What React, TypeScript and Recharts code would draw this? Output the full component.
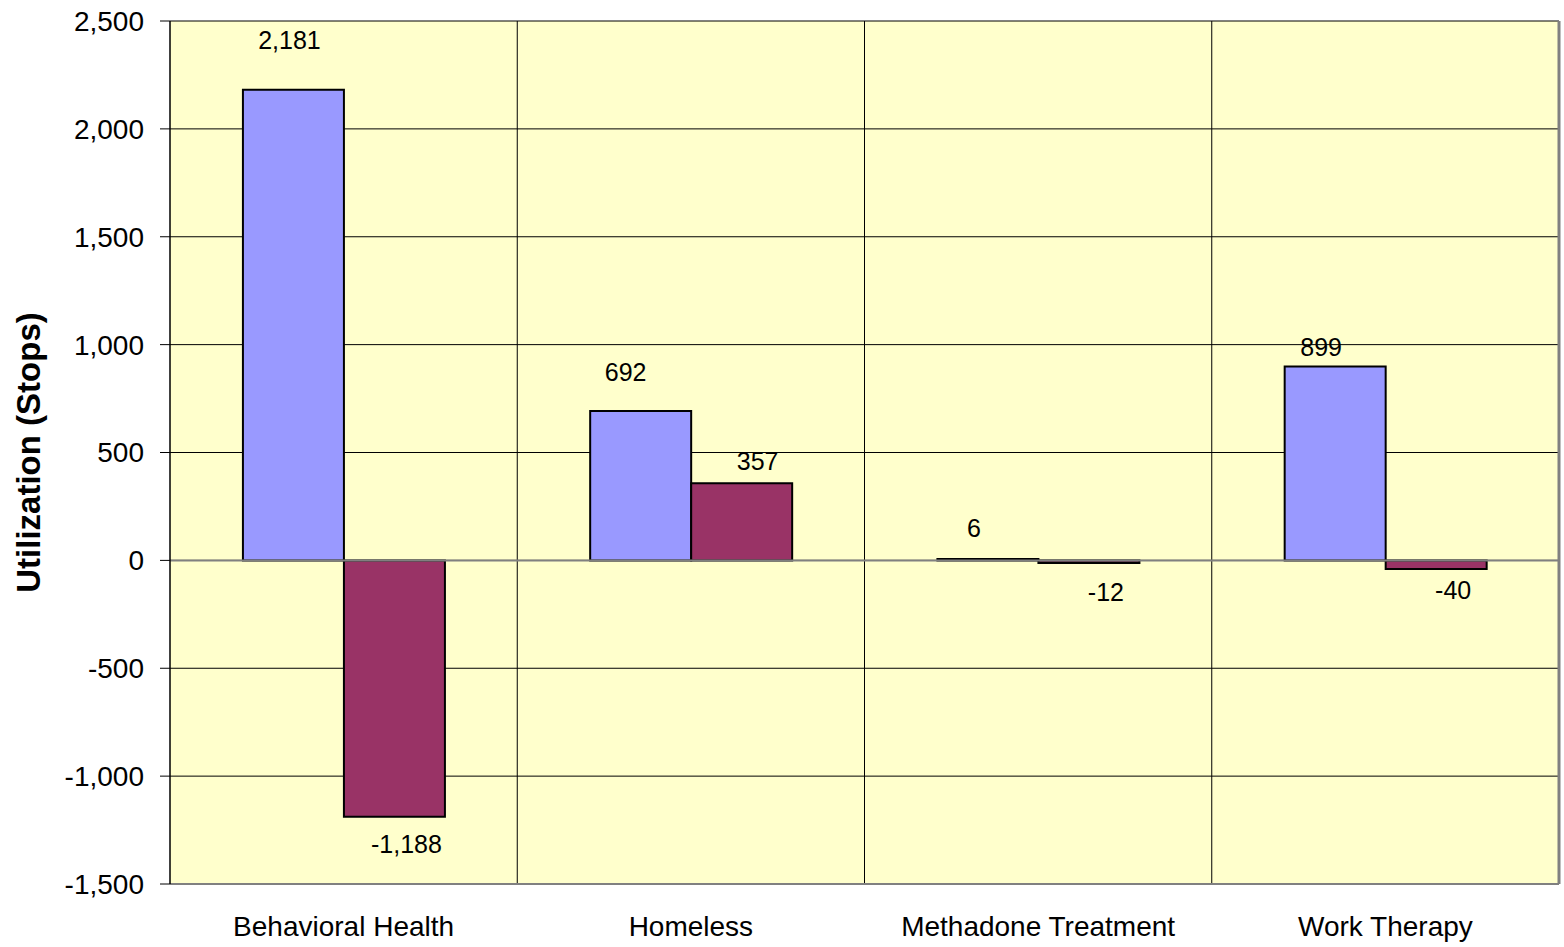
import React from "react";
import {
  BarChart,
  Bar,
  XAxis,
  YAxis,
  CartesianGrid,
  ReferenceLine,
  LabelList,
} from "recharts";

const categories = ["Behavioral Health", "Homeless", "Methadone Treatment", "Work Therapy"];
const seriesA = [2181, 692, 6, 899];
const seriesB = [-1188, 357, -12, -40];
const yTicks = [-1500, -1000, -500, 0, 500, 1000, 1500, 2000, 2500];

// label nudges (style only), matching the reference's hand-placed labels
const labelShiftA = [
  { dx: -4, dy: -50 },
  { dx: -15, dy: -39 },
  { dx: -14, dy: -31 },
  { dx: -14, dy: -19 },
];
const labelShiftB = [
  { dx: 12, dy: 27 },
  { dx: 16, dy: -22 },
  { dx: 17, dy: 29 },
  { dx: 17, dy: 21 },
];

const data = categories.map((name, i) => ({ name, a: seriesA[i], b: seriesB[i] }));

const FONT = "'Liberation Sans', Arial, sans-serif";
const fmt = (v: number) => v.toLocaleString("en-US");

const makeLabel = (shifts: { dx: number; dy: number }[]) => (props: any) => {
  const { x, y, width, height, value, index } = props;
  const s = shifts[index] || { dx: 0, dy: 0 };
  const cx = x + width / 2 + s.dx;
  const top = Math.min(y, y + height);
  const bottom = Math.max(y, y + height);
  const base = value >= 0 ? top : bottom;
  return (
    <text
      x={cx}
      y={base + s.dy}
      textAnchor="middle"
      dominantBaseline="central"
      fontFamily={FONT}
      fontSize={25}
      fill="#000"
    >
      {fmt(value)}
    </text>
  );
};

const YLabel = (props: any) => {
  const { viewBox } = props;
  const cx = viewBox.x + 28;
  const cy = viewBox.y + viewBox.height / 2;
  return (
    <text
      x={cx}
      y={cy}
      transform={`rotate(-90, ${cx}, ${cy})`}
      textAnchor="middle"
      dominantBaseline="central"
      fontFamily={FONT}
      fontSize={33}
      fontWeight="bold"
      fill="#000"
    >
      Utilization (Stops)
    </text>
  );
};

export default function App() {
  return (
    <div style={{ position: "absolute", left: 0, top: 0, width: 1564, height: 947, background: "#fff" }}>
      <BarChart
        width={1564}
        height={947}
        data={data}
        margin={{ top: 21, right: 0, left: 0, bottom: 0 }}
        barCategoryGap="21%"
        barGap={0}
      >
        <CartesianGrid
          fill="#FFFFCC"
          stroke="#000"
          strokeWidth={1}
          horizontalValues={yTicks}
          verticalCoordinatesGenerator={({ offset }: any) =>
            [1, 2, 3].map((i) => offset.left + (offset.width * i) / 4)
          }
        />
        <XAxis
          dataKey="name"
          height={63}
          tickLine={false}
          tickSize={0}
          tickMargin={32}
          axisLine={{ stroke: "#808080", strokeWidth: 2 }}
          tick={{ fontFamily: FONT, fontSize: 28, fill: "#000" }}
          interval={0}
        />
        <XAxis
          xAxisId="top"
          dataKey="name"
          orientation="top"
          height={0}
          tick={false}
          tickLine={false}
          axisLine={{ stroke: "#808080", strokeWidth: 2 }}
        />
        <YAxis
          domain={[-1500, 2500]}
          ticks={yTicks}
          width={170}
          tickSize={10}
          tickMargin={16}
          tickFormatter={fmt}
          interval={0}
          axisLine={{ stroke: "#000", strokeWidth: 1.5 }}
          tickLine={{ stroke: "#000" }}
          tick={{ fontFamily: FONT, fontSize: 28, fill: "#000" }}
          label={<YLabel />}
          allowDataOverflow
        />
        <YAxis
          yAxisId="right"
          orientation="right"
          width={5}
          domain={[-1500, 2500]}
          tick={false}
          tickLine={false}
          axisLine={{ stroke: "#808080", strokeWidth: 3 }}
        />
        <ReferenceLine y={0} stroke="#808080" strokeWidth={2} />
        <Bar dataKey="a" fill="#9999FF" stroke="#000" strokeWidth={2} isAnimationActive={false}>
          <LabelList dataKey="a" content={makeLabel(labelShiftA)} />
        </Bar>
        <Bar dataKey="b" fill="#993366" stroke="#000" strokeWidth={2} isAnimationActive={false}>
          <LabelList dataKey="b" content={makeLabel(labelShiftB)} />
        </Bar>
      </BarChart>
    </div>
  );
}
